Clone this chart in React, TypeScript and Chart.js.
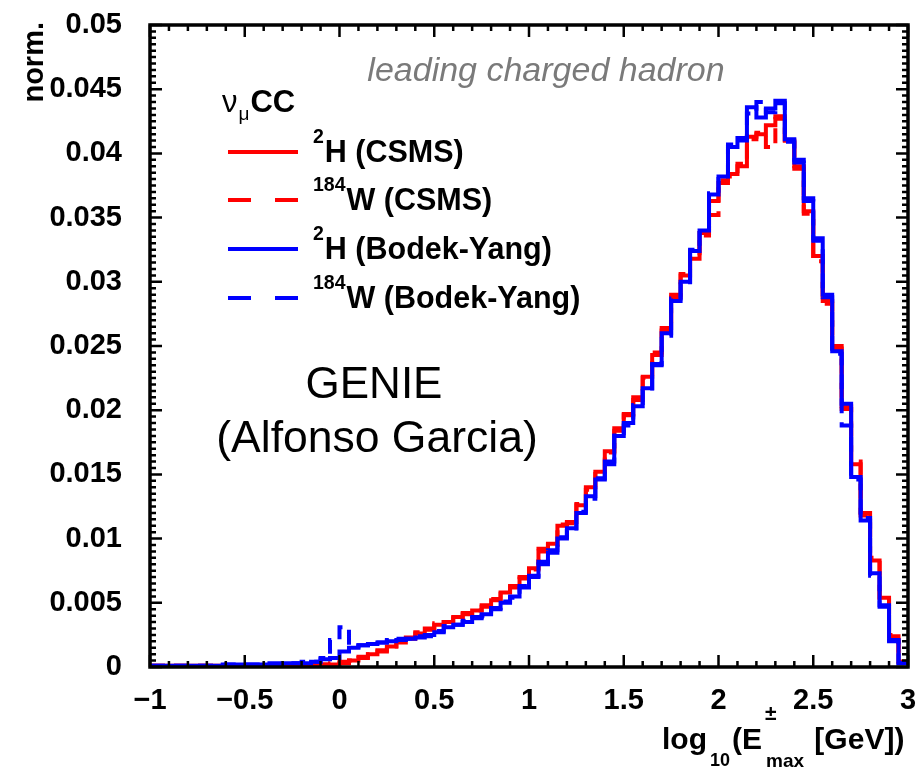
import { useEffect, useRef } from "react";
import { Chart, registerables } from "chart.js";

Chart.register(...registerables);

// Histogram binning: 80 bins of 0.05 from -1 to 3
const X_MIN = -1;
const X_MAX = 3;
const BIN_WIDTH = 0.05;

const xTickStep = 0.5;
const yTickStep = 0.005;

// 2H (CSMS) - red solid
const h2CSMS = [
  0.0001, 0.0001, 0.0001, 0.0001, 0.0001, 0.0001, 0.0001, 0.0001, 0.0001, 0.0001,
  0.0001, 0.0001, 0.0001, 0.0001, 0.0001, 0.0001, 0.0002, 0.0002, 0.0002, 0.0002,
  0.0003, 0.0005, 0.0007, 0.0010, 0.0013, 0.0016, 0.0019, 0.0023, 0.0026, 0.0030,
  0.0033, 0.0035, 0.0039, 0.0041, 0.0044, 0.0048, 0.0052, 0.0058, 0.0063, 0.0069,
  0.0077, 0.0090, 0.0096, 0.0110, 0.0113, 0.0126, 0.0140, 0.0152, 0.0168, 0.0186,
  0.0196, 0.0210, 0.0226, 0.0243, 0.0264, 0.0290, 0.0305, 0.0318, 0.0338, 0.0363,
  0.0377, 0.0384, 0.0390, 0.0413, 0.0415, 0.0422, 0.0427, 0.0410, 0.0390, 0.0355,
  0.0320, 0.0285, 0.0250, 0.0203, 0.0158, 0.0120, 0.0083, 0.0054, 0.0024, 0.0004,
];

// 184W (CSMS) - red dashed
const w184CSMS = [
  0.0001, 0.0001, 0.0001, 0.0001, 0.0001, 0.0001, 0.0001, 0.0001, 0.0001, 0.0001,
  0.0001, 0.0001, 0.0001, 0.0001, 0.0001, 0.0002, 0.0002, 0.0002, 0.0002, 0.0003,
  0.0004, 0.0005, 0.0008, 0.0010, 0.0012, 0.0016, 0.0020, 0.0022, 0.0027, 0.0029,
  0.0034, 0.0035, 0.0038, 0.0042, 0.0044, 0.0047, 0.0053, 0.0057, 0.0062, 0.0070,
  0.0076, 0.0092, 0.0095, 0.0111, 0.0112, 0.0127, 0.0138, 0.0153, 0.0167, 0.0184,
  0.0197, 0.0208, 0.0225, 0.0245, 0.0262, 0.0288, 0.0306, 0.0320, 0.0336, 0.0352,
  0.0379, 0.0382, 0.0392, 0.0411, 0.0416, 0.0405, 0.0429, 0.0408, 0.0388, 0.0353,
  0.0316, 0.0283, 0.0248, 0.0201, 0.0160, 0.0118, 0.0085, 0.0052, 0.0025, 0.0004,
];

// 2H (Bodek-Yang) - blue solid
const h2BY = [
  0.0001, 0.0001, 0.0001, 0.0001, 0.0001, 0.0001, 0.0001, 0.0001, 0.0002, 0.0002,
  0.0002, 0.0002, 0.0002, 0.0002, 0.0003, 0.0003, 0.0003, 0.0004, 0.0006, 0.0007,
  0.0012, 0.0015, 0.0017, 0.0018, 0.0019, 0.0020, 0.0021, 0.0022, 0.0023, 0.0025,
  0.0027, 0.0031, 0.0033, 0.0035, 0.0038, 0.0041, 0.0045, 0.0050, 0.0055, 0.0062,
  0.0070, 0.0082, 0.0089, 0.0100, 0.0108, 0.0120, 0.0133, 0.0146, 0.0160, 0.0180,
  0.0190, 0.0203, 0.0217, 0.0235, 0.0260, 0.0285, 0.0300, 0.0324, 0.0340, 0.0368,
  0.0382, 0.0405, 0.0412, 0.0436, 0.0428, 0.0435, 0.0441, 0.0411, 0.0393, 0.0365,
  0.0334, 0.0290, 0.0246, 0.0205, 0.0148, 0.0114, 0.0073, 0.0047, 0.0021, 0.0003,
];

// 184W (Bodek-Yang) - blue dashed
const w184BY = [
  0.0001, 0.0001, 0.0001, 0.0001, 0.0001, 0.0001, 0.0001, 0.0002, 0.0002, 0.0002,
  0.0002, 0.0002, 0.0003, 0.0003, 0.0003, 0.0003, 0.0004, 0.0004, 0.0007, 0.0021,
  0.0031, 0.0016, 0.0017, 0.0019, 0.0019, 0.0021, 0.0022, 0.0022, 0.0024, 0.0024,
  0.0028, 0.0032, 0.0033, 0.0036, 0.0039, 0.0040, 0.0046, 0.0051, 0.0054, 0.0063,
  0.0071, 0.0080, 0.0091, 0.0101, 0.0106, 0.0121, 0.0131, 0.0147, 0.0158, 0.0182,
  0.0188, 0.0204, 0.0215, 0.0236, 0.0258, 0.0287, 0.0298, 0.0325, 0.0338, 0.0369,
  0.0380, 0.0407, 0.0410, 0.0431, 0.0440, 0.0432, 0.0439, 0.0409, 0.0395, 0.0363,
  0.0332, 0.0288, 0.0244, 0.0188, 0.0146, 0.0116, 0.0071, 0.0048, 0.0020, 0.0003,
];

const RED = "#ff0000";
const BLUE = "#0000ff";
const FAMILY = '"Liberation Sans", Arial, Helvetica, sans-serif';

function histPoints(vals: number[]) {
  const pts = vals.map((v, i) => ({ x: X_MIN + i * BIN_WIDTH, y: v }));
  pts.push({ x: X_MAX, y: vals[vals.length - 1] });
  return pts;
}

function fmtX(v: number) {
  const r = Math.round(v * 100) / 100;
  return r < 0 ? "\u2212" + String(-r) : String(r);
}
function fmtY(v: number) {
  return String(Number(v.toFixed(4)));
}

type Seg = { t: string; font: string; dy?: number; dx?: number };
function drawRich(ctx: CanvasRenderingContext2D, x: number, y: number, segs: Seg[], align: "left" | "center" = "left") {
  ctx.textAlign = "left";
  ctx.textBaseline = "alphabetic";
  let total = 0;
  for (const s of segs) {
    ctx.font = s.font;
    total += ctx.measureText(s.t).width + (s.dx || 0);
  }
  let cx = align === "center" ? x - total / 2 : x;
  for (const s of segs) {
    ctx.font = s.font;
    cx += s.dx || 0;
    ctx.fillText(s.t, cx, y + (s.dy || 0));
    cx += ctx.measureText(s.t).width;
  }
}

const decorPlugin = {
  id: "rootDecor",
  afterDraw(chart: any) {
    const ctx: CanvasRenderingContext2D = chart.ctx;
    const { left, right, top, bottom } = chart.chartArea;
    const xs = chart.scales.x;
    const ys = chart.scales.y;
    ctx.save();
    // ticks
    ctx.strokeStyle = "#000";
    ctx.lineWidth = 2.5;
    ctx.beginPath();
    for (let i = 0; i <= 40; i++) {
      const v = X_MIN + i * 0.1;
      const px = xs.getPixelForValue(v);
      const len = i % 5 === 0 ? 12 : 6;
      ctx.moveTo(px, bottom);
      ctx.lineTo(px, bottom - len);
      ctx.moveTo(px, top);
      ctx.lineTo(px, top + len);
    }
    for (let i = 0; i <= 100; i++) {
      const v = i * 0.0005;
      const py = ys.getPixelForValue(v);
      const len = i % 10 === 0 ? 12 : 6;
      ctx.moveTo(left, py);
      ctx.lineTo(left + len, py);
      ctx.moveTo(right, py);
      ctx.lineTo(right - len, py);
    }
    ctx.stroke();
    // frame
    ctx.lineWidth = 3.5;
    ctx.strokeRect(left, top, right - left, bottom - top);

    ctx.fillStyle = "#000";
    // y title
    ctx.save();
    ctx.translate(43, 22);
    ctx.rotate(-Math.PI / 2);
    ctx.font = `bold 29px ${FAMILY}`;
    ctx.textAlign = "right";
    ctx.textBaseline = "alphabetic";
    ctx.fillText("norm.", 0, 0);
    ctx.restore();

    // x title
    const B30 = `bold 30px ${FAMILY}`;
    const B18 = `bold 18px ${FAMILY}`;
    const B19 = `bold 19px ${FAMILY}`;
    const B21 = `bold 21px ${FAMILY}`;
    ctx.textAlign = "left";
    ctx.textBaseline = "alphabetic";
    let cx = 662;
    const base = 749;
    ctx.font = B30;
    ctx.fillText("log", cx, base);
    cx += ctx.measureText("log").width + 3;
    ctx.font = B18;
    ctx.fillText("10", cx, base + 17);
    cx += ctx.measureText("10").width + 2;
    ctx.font = B30;
    ctx.fillText("(E", cx, base);
    cx += ctx.measureText("(E").width + 2;
    ctx.font = B21;
    ctx.fillText("\u00b1", cx + 1, base - 29);
    ctx.font = B19;
    ctx.fillText("max", cx + 2, base + 18);
    cx += ctx.measureText("max").width + 4;
    ctx.font = B30;
    ctx.fillText(" [GeV])", cx, base);

    // top label
    ctx.fillStyle = "#7a7a7a";
    ctx.font = `italic 34px ${FAMILY}`;
    ctx.textAlign = "center";
    ctx.fillText("leading charged hadron", 546, 81);

    // GENIE
    ctx.fillStyle = "#000";
    ctx.font = `44px ${FAMILY}`;
    ctx.fillText("GENIE", 374, 398);
    ctx.font = `44.5px ${FAMILY}`;
    ctx.fillText("(Alfonso Garcia)", 377, 452);

    const B31 = `bold 30.5px ${FAMILY}`;
    // nu_mu CC
    drawRich(ctx, 222, 112, [
      { t: "\u03bd", font: `31px ${FAMILY}` },
      { t: "\u03bc", font: `19px ${FAMILY}`, dy: 8, dx: 1 },
      { t: "CC", font: `bold 31px ${FAMILY}`, dx: 1 },
    ]);

    // legend
    const rows = [
      { y: 152, color: RED, dash: false, sup: "2", text: "H (CSMS)" },
      { y: 200, color: RED, dash: true, sup: "184", text: "W (CSMS)" },
      { y: 249, color: BLUE, dash: false, sup: "2", text: "H (Bodek-Yang)" },
      { y: 298, color: BLUE, dash: true, sup: "184", text: "W (Bodek-Yang)" },
    ];
    for (const r of rows) {
      ctx.strokeStyle = r.color;
      ctx.lineWidth = 4;
      ctx.setLineDash(r.dash ? [23, 24] : []);
      ctx.beginPath();
      ctx.moveTo(228, r.y);
      ctx.lineTo(298, r.y);
      ctx.stroke();
      ctx.setLineDash([]);
      ctx.fillStyle = "#000";
      drawRich(ctx, 313, r.y + 10, [
        { t: r.sup, font: `bold 19.5px ${FAMILY}`, dy: -19 },
        { t: r.text, font: B31, dx: 1 },
      ]);
    }
    ctx.restore();
  },
};

export default function App() {
  const ref = useRef<HTMLCanvasElement>(null);
  useEffect(() => {
    const mk = (label: string, vals: number[], color: string, dashed: boolean, order: number) => ({
      label,
      data: histPoints(vals),
      borderColor: color,
      backgroundColor: color,
      borderWidth: 4,
      borderDash: dashed ? [15, 9] : [],
      // 'before': horizontal at the bin's own value, then vertical to the next bin
      stepped: "before" as const,
      pointRadius: 0,
      fill: false,
      order,
    });
    const chart = new Chart(ref.current as HTMLCanvasElement, {
      type: "line",
      data: {
        datasets: [
          mk("2H (CSMS)", h2CSMS, RED, false, 2),
          mk("184W (CSMS)", w184CSMS, RED, true, 3),
          mk("2H (Bodek-Yang)", h2BY, BLUE, false, 0),
          mk("184W (Bodek-Yang)", w184BY, BLUE, true, 1),
        ],
      },
      options: {
        animation: false,
        responsive: false,
        devicePixelRatio: 1,
        layout: { padding: { top: 25, right: 8, left: 0, bottom: 0 } },
        plugins: { legend: { display: false }, tooltip: { enabled: false } },
        scales: {
          x: {
            type: "linear",
            min: X_MIN,
            max: X_MAX,
            grid: { display: false, drawTicks: false },
            border: { display: false },
            ticks: {
              stepSize: xTickStep,
              autoSkip: false,
              maxRotation: 0,
              padding: 17,
              color: "#000",
              font: { family: FAMILY, size: 29, weight: "bold" },
              callback: (v: any) => fmtX(Number(v)),
            },
            afterFit: (s: any) => {
              s.height = 102;
              s.paddingLeft = 0;
              s.paddingRight = 0;
              s.paddingTop = 0;
              s.paddingBottom = 0;
            },
          },
          y: {
            type: "linear",
            min: 0,
            max: 0.05,
            grid: { display: false, drawTicks: false },
            border: { display: false },
            ticks: {
              stepSize: yTickStep,
              autoSkip: false,
              padding: 28,
              color: "#000",
              font: { family: FAMILY, size: 29, weight: "bold" },
              callback: (v: any) => fmtY(Number(v)),
            },
            afterFit: (s: any) => {
              s.width = 150;
              s.paddingLeft = 0;
              s.paddingRight = 0;
              s.paddingTop = 0;
              s.paddingBottom = 0;
            },
          },
        },
      } as any,
      plugins: [decorPlugin],
    });
    return () => chart.destroy();
  }, []);
  return (
    <div style={{ position: "fixed", left: 0, top: 0, width: 916, height: 769, background: "#fff" }}>
      <canvas ref={ref} width={916} height={769} style={{ display: "block", width: 916, height: 769 }} />
    </div>
  );
}
